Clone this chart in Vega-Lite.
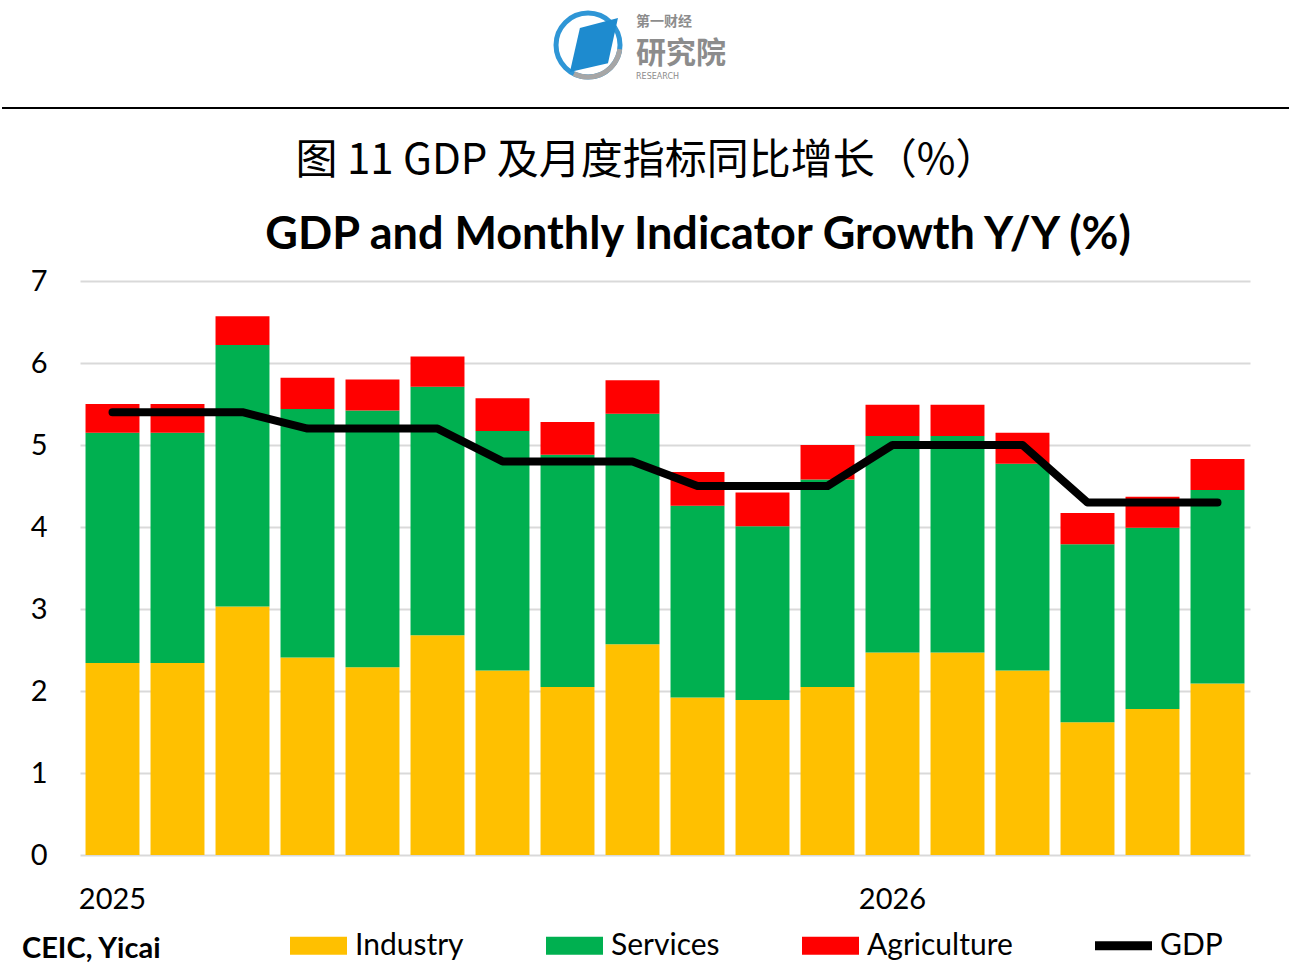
{
  "$schema": "https://vega.github.io/schema/vega-lite/v6.json",
  "description": "GDP and monthly indicator growth, stacked bars with GDP line",
  "padding": 0,
  "background": "white",
  "spacing": 31,
  "config": {"view": {"stroke": null}, "font": "Lato"},
  "datasets": {
    "growth": [
      {"month": "2025-01", "series": "Industry", "value": 2.34},
      {"month": "2025-01", "series": "Services", "value": 2.81},
      {"month": "2025-01", "series": "Agriculture", "value": 0.35},
      {"month": "2025-01", "series": "GDP", "value": 5.4},
      {"month": "2025-02", "series": "Industry", "value": 2.34},
      {"month": "2025-02", "series": "Services", "value": 2.81},
      {"month": "2025-02", "series": "Agriculture", "value": 0.35},
      {"month": "2025-02", "series": "GDP", "value": 5.4},
      {"month": "2025-03", "series": "Industry", "value": 3.03},
      {"month": "2025-03", "series": "Services", "value": 3.19},
      {"month": "2025-03", "series": "Agriculture", "value": 0.35},
      {"month": "2025-03", "series": "GDP", "value": 5.4},
      {"month": "2025-04", "series": "Industry", "value": 2.41},
      {"month": "2025-04", "series": "Services", "value": 3.03},
      {"month": "2025-04", "series": "Agriculture", "value": 0.38},
      {"month": "2025-04", "series": "GDP", "value": 5.2},
      {"month": "2025-05", "series": "Industry", "value": 2.29},
      {"month": "2025-05", "series": "Services", "value": 3.13},
      {"month": "2025-05", "series": "Agriculture", "value": 0.38},
      {"month": "2025-05", "series": "GDP", "value": 5.2},
      {"month": "2025-06", "series": "Industry", "value": 2.68},
      {"month": "2025-06", "series": "Services", "value": 3.03},
      {"month": "2025-06", "series": "Agriculture", "value": 0.37},
      {"month": "2025-06", "series": "GDP", "value": 5.2},
      {"month": "2025-07", "series": "Industry", "value": 2.25},
      {"month": "2025-07", "series": "Services", "value": 2.92},
      {"month": "2025-07", "series": "Agriculture", "value": 0.40},
      {"month": "2025-07", "series": "GDP", "value": 4.8},
      {"month": "2025-08", "series": "Industry", "value": 2.05},
      {"month": "2025-08", "series": "Services", "value": 2.83},
      {"month": "2025-08", "series": "Agriculture", "value": 0.40},
      {"month": "2025-08", "series": "GDP", "value": 4.8},
      {"month": "2025-09", "series": "Industry", "value": 2.57},
      {"month": "2025-09", "series": "Services", "value": 2.81},
      {"month": "2025-09", "series": "Agriculture", "value": 0.41},
      {"month": "2025-09", "series": "GDP", "value": 4.8},
      {"month": "2025-10", "series": "Industry", "value": 1.92},
      {"month": "2025-10", "series": "Services", "value": 2.34},
      {"month": "2025-10", "series": "Agriculture", "value": 0.41},
      {"month": "2025-10", "series": "GDP", "value": 4.5},
      {"month": "2025-11", "series": "Industry", "value": 1.89},
      {"month": "2025-11", "series": "Services", "value": 2.12},
      {"month": "2025-11", "series": "Agriculture", "value": 0.41},
      {"month": "2025-11", "series": "GDP", "value": 4.5},
      {"month": "2025-12", "series": "Industry", "value": 2.05},
      {"month": "2025-12", "series": "Services", "value": 2.53},
      {"month": "2025-12", "series": "Agriculture", "value": 0.42},
      {"month": "2025-12", "series": "GDP", "value": 4.5},
      {"month": "2026-01", "series": "Industry", "value": 2.47},
      {"month": "2026-01", "series": "Services", "value": 2.64},
      {"month": "2026-01", "series": "Agriculture", "value": 0.38},
      {"month": "2026-01", "series": "GDP", "value": 5.0},
      {"month": "2026-02", "series": "Industry", "value": 2.47},
      {"month": "2026-02", "series": "Services", "value": 2.64},
      {"month": "2026-02", "series": "Agriculture", "value": 0.38},
      {"month": "2026-02", "series": "GDP", "value": 5.0},
      {"month": "2026-03", "series": "Industry", "value": 2.25},
      {"month": "2026-03", "series": "Services", "value": 2.52},
      {"month": "2026-03", "series": "Agriculture", "value": 0.38},
      {"month": "2026-03", "series": "GDP", "value": 5.0},
      {"month": "2026-04", "series": "Industry", "value": 1.62},
      {"month": "2026-04", "series": "Services", "value": 2.17},
      {"month": "2026-04", "series": "Agriculture", "value": 0.38},
      {"month": "2026-04", "series": "GDP", "value": 4.3},
      {"month": "2026-05", "series": "Industry", "value": 1.78},
      {"month": "2026-05", "series": "Services", "value": 2.21},
      {"month": "2026-05", "series": "Agriculture", "value": 0.38},
      {"month": "2026-05", "series": "GDP", "value": 4.3},
      {"month": "2026-06", "series": "Industry", "value": 2.09},
      {"month": "2026-06", "series": "Services", "value": 2.36},
      {"month": "2026-06", "series": "Agriculture", "value": 0.38},
      {"month": "2026-06", "series": "GDP", "value": 4.3}
    ],
    "stackOrder": [
      {"series": "Industry", "rank": 1},
      {"series": "Services", "rank": 2},
      {"series": "Agriculture", "rank": 3}
    ]
  },
  "vconcat": [
    {
      "width": 1209,
      "height": 108,
      "title": {
        "text": "图 11 GDP 及月度指标同比增长（%）",
        "orient": "bottom",
        "anchor": "middle",
        "dx": -38,
        "offset": 32,
        "font": "Noto Sans CJK SC",
        "fontSize": 42,
        "fontWeight": "normal",
        "color": "black"
      },
      "data": {"values": [{}]},
      "encoding": {
        "x": {"datum": 0, "type": "quantitative", "scale": {"domain": [0, 1]}, "axis": null},
        "y": {"datum": 0, "type": "quantitative", "scale": {"domain": [0, 1]}, "axis": null}
      },
      "layer": [
        {
          "mark": {"type": "rule", "color": "black", "strokeWidth": 2},
          "encoding": {"x": {"datum": -0.0645}, "x2": {"datum": 1}}
        },
        {
          "mark": {"type": "point", "shape": "circle", "filled": false, "stroke": "#2F96D6", "strokeWidth": 5, "size": 4096, "opacity": 1},
          "encoding": {"x": {"datum": 0.4202}, "y": {"datum": 0.583}}
        },
        {
          "mark": {"type": "arc", "radius": 34.5, "radius2": 29.5, "theta": 1.7, "theta2": 3.6, "color": "#A6A6A6"},
          "encoding": {"x": {"datum": 0.4202}, "y": {"datum": 0.583}}
        },
        {
          "mark": {"type": "point", "shape": "M-0.52,-0.63L0.89,-1L0.52,0.67L-0.89,1Z", "filled": true, "fill": "#1E8BCF", "size": 2916, "opacity": 1},
          "encoding": {"x": {"datum": 0.4251}, "y": {"datum": 0.583}}
        },
        {
          "mark": {"type": "text", "text": "第一财经", "align": "left", "baseline": "middle", "font": "Noto Sans CJK SC", "fontSize": 14, "fontWeight": "bold", "color": "#8C8C8C"},
          "encoding": {"x": {"datum": 0.4599}, "y": {"datum": 0.8}}
        },
        {
          "mark": {"type": "text", "text": "研究院", "align": "left", "baseline": "middle", "font": "Noto Sans CJK SC", "fontSize": 30, "fontWeight": "bold", "color": "#8C8C8C"},
          "encoding": {"x": {"datum": 0.4599}, "y": {"datum": 0.5}}
        },
        {
          "mark": {"type": "text", "text": "RESEARCH", "align": "left", "baseline": "middle", "font": "DejaVu Sans", "fontSize": 8, "color": "#8C8C8C"},
          "encoding": {"x": {"datum": 0.4599}, "y": {"datum": 0.29}}
        }
      ]
    },
    {
      "width": 1170,
      "height": 574,
      "title": {
        "text": "GDP and Monthly Indicator Growth Y/Y (%)",
        "anchor": "middle",
        "dx": 33,
        "offset": 9,
        "font": "Lato",
        "fontSize": 45,
        "fontWeight": "bold",
        "color": "black"
      },
      "data": {"name": "growth"},
      "encoding": {
        "x": {
          "field": "month",
          "type": "ordinal",
          "scale": {"paddingInner": 0.17, "paddingOuter": 0.085},
          "axis": {
            "title": null,
            "labelAngle": 0,
            "labelExpr": "substring(datum.value, 5) == '01' ? substring(datum.value, 0, 4) : ''",
            "ticks": false,
            "domain": false,
            "labelFont": "Lato",
            "labelFontSize": 29,
            "labelColor": "black",
            "labelPadding": 30
          }
        }
      },
      "layer": [
        {
          "transform": [
            {"filter": "datum.series != 'GDP'"},
            {"lookup": "series", "from": {"data": {"name": "stackOrder"}, "key": "series", "fields": ["rank"]}}
          ],
          "mark": {"type": "bar"},
          "encoding": {
            "y": {
              "field": "value",
              "type": "quantitative",
              "stack": "zero",
              "scale": {"domain": [0, 7], "nice": false},
              "axis": {
                "title": null,
                "values": [0, 1, 2, 3, 4, 5, 6, 7],
                "format": "d",
                "domain": false,
                "ticks": false,
                "labelFont": "Lato",
                "labelFontSize": 29,
                "labelColor": "black",
                "labelPadding": 33,
                "gridColor": "#D9D9D9",
                "gridWidth": 2,
                "minExtent": 80,
                "maxExtent": 80
              }
            },
            "color": {
              "field": "series",
              "type": "nominal",
              "sort": ["Industry", "Services", "Agriculture", "GDP"],
              "scale": {
                "domain": ["Industry", "Services", "Agriculture", "GDP"],
                "range": ["#FFC000", "#00B050", "#FF0000", "#000000"]
              },
              "legend": {
                "title": "CEIC, Yicai",
                "orient": "none",
                "legendX": -58,
                "legendY": 917,
                "direction": "horizontal",
                "titleOrient": "left",
                "titleFont": "Lato",
                "titleFontSize": 29,
                "titleFontWeight": "bold",
                "titleColor": "black",
                "titlePadding": 128,
                "labelFont": "Lato",
                "labelFontSize": 30,
                "labelColor": "black",
                "labelOffset": 8,
                "columnPadding": 82,
                "symbolSize": 3249,
                "symbolType": "M-1,-0.32L1,-0.32L1,0.32L-1,0.32Z",
                "symbolStrokeWidth": 0,
                "encode": {
                  "title": {"update": {"dy": {"value": 10}}},
                  "symbols": {
                    "update": {
                      "shape": {"signal": "datum.label == 'GDP' ? 'M-1,-0.16L1,-0.16L1,0.16L-1,0.16Z' : 'M-1,-0.32L1,-0.32L1,0.32L-1,0.32Z'"}
                    }
                  }
                }
              }
            },
            "order": {"field": "rank", "type": "quantitative", "sort": "ascending"}
          }
        },
        {
          "transform": [{"filter": "datum.series == 'GDP'"}],
          "mark": {"type": "line", "color": "black", "strokeWidth": 8, "strokeCap": "round", "strokeJoin": "round"},
          "encoding": {
            "y": {"field": "value", "type": "quantitative"}
          }
        }
      ]
    }
  ]
}
